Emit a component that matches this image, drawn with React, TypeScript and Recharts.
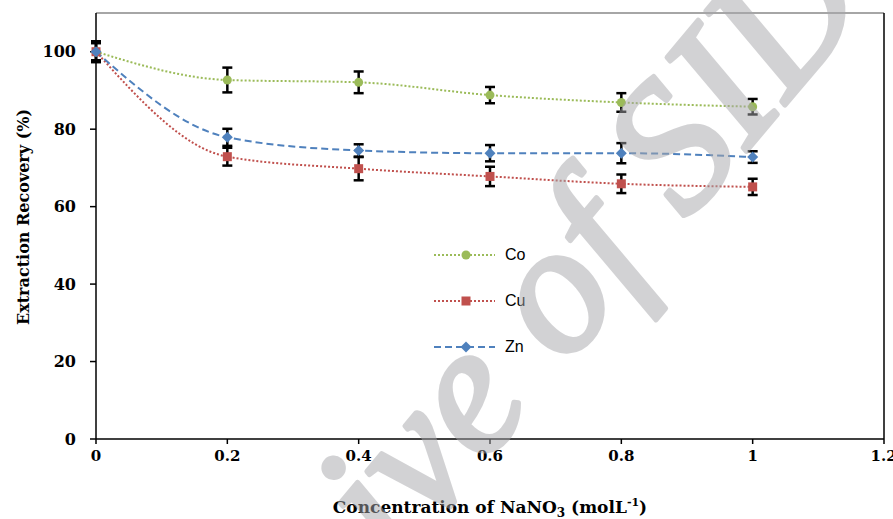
import React from 'react';
import { LineChart, Line, XAxis, YAxis, ErrorBar, ReferenceLine, Legend } from 'recharts';

// NaNO3 concentration (mol/L)
const concentrations = [0, 0.2, 0.4, 0.6, 0.8, 1];

const coValues = [100, 92.7, 92.1, 88.8, 86.9, 85.8];
const coErrors = [2.5, 3.2, 2.8, 2.1, 2.4, 2.0];
const cuValues = [100, 72.9, 69.8, 67.8, 65.9, 65.1];
const cuErrors = [2.7, 2.3, 3.0, 2.5, 2.4, 2.1];
const znValues = [100, 77.9, 74.5, 73.8, 73.8, 72.8];
const znErrors = [2.2, 2.2, 1.6, 2.1, 2.6, 1.5];

const xTicks = [0, 0.2, 0.4, 0.6, 0.8, 1, 1.2];
const yTicks = [0, 20, 40, 60, 80, 100];

const data = concentrations.map((c, i) => ({
  c,
  co: coValues[i],
  coErr: coErrors[i],
  cu: cuValues[i],
  cuErr: cuErrors[i],
  zn: znValues[i],
  znErr: znErrors[i],
}));

const GREEN = '#9BBB59';
const RED = '#C0504D';
const BLUE = '#4F81BD';
const serif = '"DejaVu Serif", "Liberation Serif", serif';

const CoDot = (props: any) => {
  const { cx, cy } = props;
  if (cx == null || cy == null) return null;
  return <circle key={`co-${cx}`} cx={cx} cy={cy} r={4.5} fill={GREEN} />;
};

const CuDot = (props: any) => {
  const { cx, cy } = props;
  if (cx == null || cy == null) return null;
  return <rect key={`cu-${cx}`} x={cx - 4.5} y={cy - 4.5} width={9} height={9} fill={RED} />;
};

const ZnDot = (props: any) => {
  const { cx, cy } = props;
  if (cx == null || cy == null) return null;
  return (
    <polygon
      key={`zn-${cx}`}
      points={`${cx},${cy - 5.5} ${cx + 5.5},${cy} ${cx},${cy + 5.5} ${cx - 5.5},${cy}`}
      fill={BLUE}
    />
  );
};

const legendItems = [
  { name: 'Co', color: GREEN, dash: '2 2', Marker: CoDot },
  { name: 'Cu', color: RED, dash: '2 2', Marker: CuDot },
  { name: 'Zn', color: BLUE, dash: '7 4', Marker: ZnDot },
];

const LegendBox = () => (
  <div>
    {legendItems.map(({ name, color, dash, Marker }) => (
      <div key={name} style={{ display: 'flex', alignItems: 'center', height: 46 }}>
        <svg width={64} height={14}>
          <line x1={2} y1={7} x2={63} y2={7} stroke={color} strokeWidth={2} strokeDasharray={dash} />
          <Marker cx={34} cy={7} />
        </svg>
        <span style={{ marginLeft: 9, fontFamily: '"Liberation Sans", Arial, sans-serif', fontSize: 16, color: '#000' }}>
          {name}
        </span>
      </div>
    ))}
  </div>
);

const tickStyle = { fill: '#000', fontSize: 15, fontWeight: 'bold', fontFamily: serif };

export default function App() {
  return (
    <div style={{ position: 'absolute', left: 0, top: 0, width: 893, height: 519, background: '#fff', overflow: 'hidden' }}>
      <LineChart width={893} height={519} data={data} margin={{ top: 13, right: 9, bottom: 40, left: 16 }}>
        <XAxis
          dataKey="c"
          type="number"
          domain={[0, 1.2]}
          ticks={xTicks}
          stroke="#000"
          strokeWidth={1.5}
          tickSize={5}
          tickMargin={6}
          tick={tickStyle}
          height={40}
          label={({ viewBox }: any) => (
            <text
              x={viewBox.x + viewBox.width / 2}
              y={viewBox.y + 74}
              textAnchor="middle"
              fontFamily={serif}
              fontWeight="bold"
              fontSize={17}
              fill="#000"
            >
              Concentration of NaNO
              <tspan dy={4} fontSize={12}>3</tspan>
              <tspan dy={-4}> (molL</tspan>
              <tspan dy={-7} fontSize={11}>-1</tspan>
              <tspan dy={7}>)</tspan>
            </text>
          )}
        />
        <YAxis
          type="number"
          domain={[0, 110]}
          ticks={yTicks}
          stroke="#000"
          strokeWidth={1.5}
          tickSize={6}
          tickMargin={14}
          tick={{ ...tickStyle, fontSize: 16 }}
          width={80}
          label={({ viewBox }: any) => (
            <text
              transform={`translate(${viewBox.x + 7},${viewBox.y + viewBox.height / 2 - 9}) rotate(-90)`}
              textAnchor="middle"
              dominantBaseline="central"
              fontFamily={serif}
              fontWeight="bold"
              fontSize={16}
              fill="#000"
            >
              Extraction Recovery (%)
            </text>
          )}
        />
        <ReferenceLine y={110} stroke="#888" strokeWidth={1.5} />
        <ReferenceLine x={1.2} stroke="#000" strokeWidth={1.5} />
        <Legend
          layout="vertical"
          align="center"
          verticalAlign="middle"
          content={() => <LegendBox />}
          wrapperStyle={{ left: 432, top: 232, width: 140 }}
        />
        <Line
          type="monotone"
          dataKey="co"
          name="Co"
          stroke={GREEN}
          strokeWidth={2}
          strokeDasharray="2 2"
          dot={CoDot}
          activeDot={false}
          isAnimationActive={false}
        >
          <ErrorBar dataKey="coErr" direction="y" width={5} stroke="#000" strokeWidth={2.5} />
        </Line>
        <Line
          type="monotone"
          dataKey="cu"
          name="Cu"
          stroke={RED}
          strokeWidth={2}
          strokeDasharray="2 2"
          dot={CuDot}
          activeDot={false}
          isAnimationActive={false}
        >
          <ErrorBar dataKey="cuErr" direction="y" width={5} stroke="#000" strokeWidth={2.5} />
        </Line>
        <Line
          type="monotone"
          dataKey="zn"
          name="Zn"
          stroke={BLUE}
          strokeWidth={2}
          strokeDasharray="7 4"
          dot={ZnDot}
          activeDot={false}
          isAnimationActive={false}
        >
          <ErrorBar dataKey="znErr" direction="y" width={5} stroke="#000" strokeWidth={2.5} />
        </Line>
      </LineChart>
      <svg width={893} height={519} style={{ position: 'absolute', left: 0, top: 0, pointerEvents: 'none' }}>
        <text
          x={170}
          y={838}
          transform="rotate(-50, 170, 838)"
          fontFamily='"Liberation Serif", serif'
          fontStyle="italic"
          fontSize={185}
          fill="#a7a7ab"
          stroke="#a7a7ab"
          strokeWidth={5}
          strokeLinejoin="round"
          opacity={0.5}
        >
          Archive of SID
        </text>
      </svg>
    </div>
  );
}
